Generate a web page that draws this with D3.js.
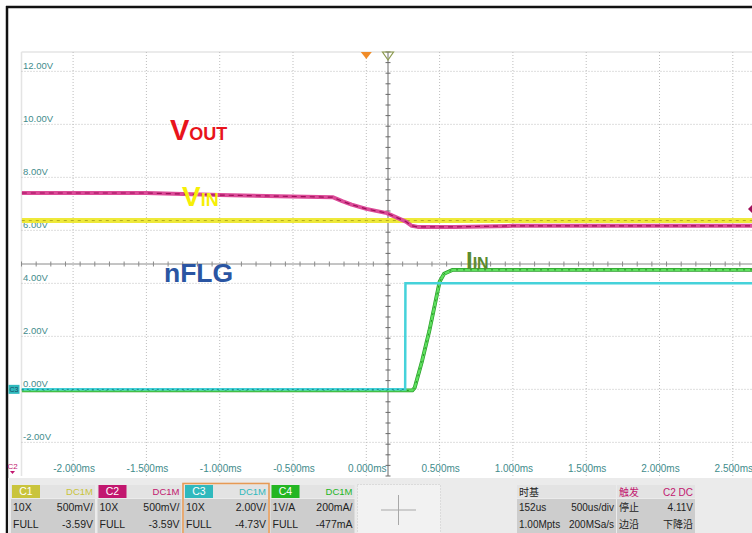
<!DOCTYPE html>
<html><head><meta charset="utf-8">
<script src="https://cdn.jsdelivr.net/npm/d3@7"></script>
<style>
html,body{margin:0;padding:0;background:#fff;}
svg{display:block;}
text{font-family:"Liberation Sans",Arial,sans-serif;}
</style></head>
<body>
<script>
// ---------- data ----------
const timeTicks = [-2, -1.5, -1, -0.5, 0, 0.5, 1, 1.5, 2, 2.5];
const timeTickLabels = ["-2.000ms","-1.500ms","-1.000ms","-0.500ms","0.000ms","0.500ms","1.000ms","1.500ms","2.000ms","2.500ms"];
const voltTicks = [12, 10, 8, 6, 4, 2, 0, -2];
const voltTickLabels = ["12.00V","10.00V","8.00V","6.00V","4.00V","2.00V","0.00V","-2.00V"];

// C1 VIN (V)
const vinT = [-2.35, -1.0, 0.0, 1.0, 2.65];
const vinV = [4.00, 4.00, 4.00, 4.00, 4.00];
// C2 VOUT (V)
const voutT = [-2.35, -1.5, -1.0, -0.6, -0.23, -0.16, -0.10, 0.0, 0.14, 0.27, 0.31, 0.35, 0.6, 1.0, 2.65];
const voutV = [4.26, 4.26, 4.24, 4.23, 4.22, 4.18, 4.15, 4.11, 4.07, 3.99, 3.95, 3.94, 3.94, 3.95, 3.95];
// C3 nFLG (V)
const nflgT = [-2.35, 0.265, 0.267, 2.65];
const nflgV = [0.0, 0.0, 4.0, 4.0];
// C4 IIN (mA)
const iinT = [-2.35, 0.314, 0.33, 0.38, 0.43, 0.47, 0.50, 0.53, 0.59, 2.65];
const iinA = [0, 0, 10, 110, 225, 330, 410, 440, 455, 455];

// channel settings (units per div, offset)
const chScale = [0.5, 0.5, 2.0, 200];
const chOffset = [-3.59, -3.59, -4.73, -477];
const timeOffsetMs = 0.148;
const msPerDiv = 0.5;

// status bar
const chNames = ["C1","C2","C3","C4"];
const chColors = ["#c9c43c","#c2176f","#2fb9bd","#23b623"];
const chCoupling = ["DC1M","DC1M","DC1M","DC1M"];
const chProbe = ["10X","10X","10X","1V/A"];
const chVdiv = ["500mV/","500mV/","2.00V/","200mA/"];
const chMode = ["FULL","FULL","FULL","FULL"];
const chOffLabel = ["-3.59V","-3.59V","-4.73V","-477mA"];
const timebaseRows = [["时基",""],["152us","500us/div"],["1.00Mpts","200MSa/s"]];
const triggerRows = [["触发","C2 DC"],["停止","4.11V"],["边沿","下降沿"]];

(function draw() {
// ---------- layout ----------
const W = 752, H = 533;
const pLeft = 21.5, pRight = 754.5, pTop = 52, pBottom = 476;

const svg = d3.select("body").append("svg").attr("width", W).attr("height", H);

const x = d3.scaleLinear()
  .domain([timeOffsetMs - 5*msPerDiv, timeOffsetMs + 5*msPerDiv])
  .range([pLeft, pRight]);
const yDiv = d3.scaleLinear().domain([-4, 4]).range([pBottom, pTop]);
const chY = chScale.map((s, i) => d3.scaleLinear()
  .domain([-chOffset[i] - 4*s, -chOffset[i] + 4*s]).range([pBottom, pTop]));
const y1 = chY[0], y2 = chY[1], y3 = chY[2], y4 = chY[3];

// outer frame
svg.append("rect").attr("x",0).attr("y",0).attr("width",W).attr("height",H).attr("fill","#fff");
svg.append("line").attr("x1",6).attr("x2",W).attr("y1",7).attr("y2",7).attr("stroke","#111").attr("stroke-width",2.5);
svg.append("line").attr("x1",7).attr("x2",7).attr("y1",6).attr("y2",H).attr("stroke","#111").attr("stroke-width",2.5);

// plot frame
svg.append("line").attr("x1",pLeft).attr("x2",W).attr("y1",pTop).attr("y2",pTop).attr("stroke","#e4e4e4").attr("stroke-width",1.5);
svg.append("line").attr("x1",pLeft).attr("x2",pLeft).attr("y1",pTop).attr("y2",pBottom).attr("stroke","#e4e4e4").attr("stroke-width",1.5);

// grid
const grid = svg.append("g");
grid.selectAll("line.v").data(timeTicks).enter().append("line")
  .attr("x1", d=>x(d)).attr("x2", d=>x(d)).attr("y1", pTop).attr("y2", pBottom)
  .attr("stroke","#bdbdbd").attr("stroke-width",1).attr("stroke-dasharray","1,2");
grid.selectAll("line.h").data(voltTicks).enter().append("line")
  .attr("x1", pLeft).attr("x2", W).attr("y1", d=>y3(d)).attr("y2", d=>y3(d))
  .attr("stroke","#bdbdbd").attr("stroke-width",1).attr("stroke-dasharray","1,2");

// center axes with ticks
const cx = x(timeOffsetMs), cy = yDiv(0);
svg.append("line").attr("x1",cx).attr("x2",cx).attr("y1",pTop).attr("y2",pBottom).attr("stroke","#6a6a6a").attr("stroke-width",1);
svg.append("line").attr("x1",pLeft).attr("x2",W).attr("y1",cy).attr("y2",cy).attr("stroke","#8a8a8a").attr("stroke-width",1);
const vtick = d3.range(-4, 4.001, 0.2);
svg.append("g").selectAll("line").data(vtick).enter().append("line")
  .attr("x1",cx-2.5).attr("x2",cx+2.5).attr("y1",d=>yDiv(d)).attr("y2",d=>yDiv(d))
  .attr("stroke","#6a6a6a").attr("stroke-width",1);
const htick = d3.range(-5, 5.001, 0.2).map(d => timeOffsetMs + d*msPerDiv);
svg.append("g").selectAll("line").data(htick).enter().append("line")
  .attr("x1",d=>x(d)).attr("x2",d=>x(d)).attr("y1",cy-2.5).attr("y2",cy+2.5)
  .attr("stroke","#8a8a8a").attr("stroke-width",1);

// axis labels
svg.append("g").selectAll("text").data(voltTicks).enter().append("text")
  .attr("x", 23).attr("y", d=>y3(d)-2).text((d,i)=>voltTickLabels[i])
  .attr("font-size", 9.5).attr("fill", "#3f8c8c");
svg.append("g").selectAll("text").data(timeTicks).enter().append("text")
  .attr("x", d=>x(d)+1).attr("y", 472).attr("text-anchor","middle").text((d,i)=>timeTickLabels[i])
  .attr("font-size", 10).attr("fill", "#3f8c8c");

// traces
const line = (ys, ts, vs) => d3.line().x((d,i)=>x(ts[i])).y((d,i)=>ys(vs[i]))(ts);
const clip = svg.append("defs").append("clipPath").attr("id","pc");
clip.append("rect").attr("x",pLeft).attr("y",pTop).attr("width",pRight-pLeft).attr("height",pBottom-pTop);
const tr = svg.append("g").attr("clip-path","url(#pc)");

// C1 yellow (VIN)
tr.append("path").attr("d", line(y1, vinT, vinV)).attr("fill","none").attr("stroke","#eee93a").attr("stroke-width",5);
tr.append("path").attr("d", line(y1, vinT, vinV)).attr("fill","none").attr("stroke","#b3ab1c").attr("stroke-width",1).attr("stroke-dasharray","3,4");
// C2 pink (VOUT)
tr.append("path").attr("d", line(y2, voutT, voutV)).attr("fill","none").attr("stroke","#dc4b98").attr("stroke-width",4).attr("stroke-linejoin","round");
tr.append("path").attr("d", line(y2, voutT, voutV)).attr("fill","none").attr("stroke","#9e0f5a").attr("stroke-width",1.2).attr("stroke-dasharray","5,4");
// C4 green (IIN)
tr.append("path").attr("d", line(y4, iinT, iinA)).attr("fill","none").attr("stroke","#2a9e2a").attr("stroke-width",3.8).attr("stroke-linejoin","round");
tr.append("path").attr("d", line(y4, iinT, iinA)).attr("fill","none").attr("stroke","#5fe05f").attr("stroke-width",2.4);
tr.append("path").attr("d", line(y4, iinT, iinA)).attr("fill","none").attr("stroke","#167a16").attr("stroke-width",0.8).attr("stroke-dasharray","2,5");
// C3 cyan (nFLG)
tr.append("path").attr("d", line(y3, nflgT, nflgV)).attr("fill","none").attr("stroke","#45d2da").attr("stroke-width",2.5);
tr.append("path").attr("d", line(y3, nflgT.slice(0,2), nflgV.slice(0,2))).attr("fill","none").attr("stroke","#138a80").attr("stroke-width",1).attr("stroke-dasharray","2,3");

// markers
const tx = x(0);
svg.append("path").attr("d", `M${tx-5.5},${pTop} L${tx+5.5},${pTop} L${tx},${pTop+7} Z`).attr("fill","#f08c28");
svg.append("path").attr("d", `M${cx-5.5},${pTop} L${cx+5.5},${pTop} L${cx},${pTop+8} Z`).attr("fill","none").attr("stroke","#8e9c52").attr("stroke-width",1.2);
const trigY = y2(4.11);
svg.append("path").attr("d", `M748,${trigY} L754,${trigY-6} L760,${trigY} L754,${trigY+6} Z`).attr("fill","#a0105a");
// C3 ground tag
const g3 = y3(0);
svg.append("rect").attr("x",8.5).attr("y",g3-4.5).attr("width",11).attr("height",9).attr("fill","#2fb9bd");
svg.append("text").attr("x",14).attr("y",g3+3).attr("text-anchor","middle").attr("font-size",7).attr("fill","#1a4a60").text("C3");
// C2 marker bottom-left
svg.append("text").attr("x",12.5).attr("y",469).attr("text-anchor","middle").attr("font-size",8).attr("fill","#c2176f").text("C2");
svg.append("path").attr("d","M10,471 L15,471 L12.5,474 Z").attr("fill","#c2176f");

// annotations
const ann = svg.append("g").attr("font-weight","bold");
const vout = ann.append("text").attr("x",170).attr("y",140).attr("fill","#e8141c");
vout.append("tspan").attr("font-size",29).text("V");
vout.append("tspan").attr("font-size",18).text("OUT");
const vin = ann.append("text").attr("x",182).attr("y",206).attr("fill","#f6ef08");
vin.append("tspan").attr("font-size",28).text("V");
vin.append("tspan").attr("font-size",18).text("IN");
ann.append("text").attr("x",164).attr("y",282).attr("fill","#2a55a2").attr("font-size",26.5).text("nFLG");
const iin = ann.append("text").attr("x",466).attr("y",269).attr("fill","#5b8b2e");
iin.append("tspan").attr("font-size",24).text("I");
iin.append("tspan").attr("font-size",16).text("IN");

// ---------- status bar ----------
const sb = svg.append("g");
sb.append("rect").attr("x",8).attr("y",478).attr("width",W-8).attr("height",H-478).attr("fill","#ebebeb");
const hdrY = 485, hdrH = 13, r1Y = 499, rH = 17;
const fs = 10.5;
chNames.forEach((n, i) => {
  const x0 = 11 + i*86.5, w = 84;
  const g = sb.append("g").attr("font-size", fs);
  g.append("rect").attr("x",x0).attr("y",hdrY).attr("width",w).attr("height",hdrH).attr("fill","#e3e3e3");
  g.append("rect").attr("x",x0).attr("y",r1Y).attr("width",w).attr("height",H-r1Y).attr("fill","#cdcdcd");
  g.append("rect").attr("x",x0+1).attr("y",hdrY).attr("width",28).attr("height",hdrH).attr("fill",chColors[i]);
  g.append("text").attr("x",x0+15).attr("y",hdrY+10).attr("text-anchor","middle").attr("fill","#fff").text(n);
  g.append("text").attr("x",x0+w-2).attr("y",hdrY+10).attr("text-anchor","end").attr("fill",chColors[i]).attr("font-size",9.5).text(chCoupling[i]);
  g.append("text").attr("x",x0+2).attr("y",r1Y+12).attr("fill","#222").text(chProbe[i]);
  g.append("text").attr("x",x0+w-2).attr("y",r1Y+12).attr("text-anchor","end").attr("fill","#222").text(chVdiv[i]);
  g.append("text").attr("x",x0+2).attr("y",r1Y+12+rH).attr("fill","#222").text(chMode[i]);
  g.append("text").attr("x",x0+w-2).attr("y",r1Y+12+rH).attr("text-anchor","end").attr("fill","#222").text(chOffLabel[i]);
  if (i === 2) {
    g.append("rect").attr("x",x0-1).attr("y",hdrY-1.5).attr("width",w+2).attr("height",H-hdrY+3)
      .attr("fill","none").attr("stroke","#e69a55").attr("stroke-width",1.6);
  }
});
// empty panel with cross
sb.append("rect").attr("x",357.5).attr("y",484.5).attr("width",83).attr("height",50).attr("fill","#f2f2f2")
  .attr("stroke","#c8c8c8").attr("stroke-dasharray","1,2");
sb.append("line").attr("x1",381).attr("x2",416).attr("y1",510).attr("y2",510).attr("stroke","#a8a8a8");
sb.append("line").attr("x1",398.5).attr("x2",398.5).attr("y1",495).attr("y2",525).attr("stroke","#a8a8a8");

// info panels
function infoPanel(x0, w, rows, hdrColor) {
  const g = sb.append("g").attr("font-size", 10);
  g.append("rect").attr("x",x0).attr("y",hdrY).attr("width",w).attr("height",hdrH).attr("fill","#e3e3e3");
  g.append("rect").attr("x",x0).attr("y",r1Y).attr("width",w).attr("height",H-r1Y).attr("fill","#cdcdcd");
  rows.forEach((r, j) => {
    const yy = j === 0 ? hdrY+10.5 : r1Y + 12 + (j-1)*rH;
    const col = j === 0 ? hdrColor : "#222";
    g.append("text").attr("x",x0+2).attr("y",yy).attr("fill",col)
      .style("font-family", '"Liberation Sans","Noto Sans CJK SC",sans-serif').text(r[0]);
    g.append("text").attr("x",x0+w-2).attr("y",yy).attr("text-anchor","end").attr("fill",col)
      .style("font-family", '"Liberation Sans","Noto Sans CJK SC",sans-serif').text(r[1]);
  });
}
infoPanel(517, 99, timebaseRows, "#222");
infoPanel(617, 78, triggerRows, "#c2176f");
})();
</script>
</body></html>
